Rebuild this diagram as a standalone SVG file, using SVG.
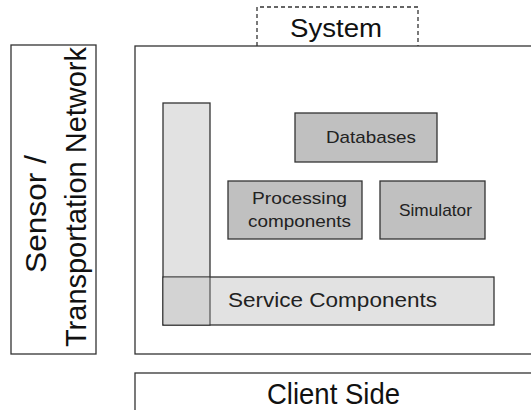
<svg xmlns="http://www.w3.org/2000/svg" width="531" height="410" viewBox="0 0 531 410">
<style>
.frame{fill:#fff;stroke:#333;stroke-width:1.3}
.dark{fill:#c0c0c0;stroke:#333;stroke-width:1.3}
.light{fill:#e2e2e2;stroke:#333;stroke-width:1.3}
.big{font-family:"Liberation Sans",Arial,sans-serif;fill:#111}
.small{font-family:"Liberation Sans",Arial,sans-serif;fill:#222}
</style>
<rect width="531" height="410" fill="#fff"/>
<g id="system">
<path d="M257,46 V7 H418 V46" fill="none" stroke="#333" stroke-width="1.3" stroke-dasharray="4,3"/>
<text class="big" x="290" y="37" font-size="26" textLength="92" lengthAdjust="spacingAndGlyphs">System</text>
</g>
<g id="main">
<rect class="frame" x="135" y="46" width="410" height="308"/>
</g>
<g id="sensor">
<rect class="frame" x="11" y="45" width="85" height="309"/>
<text class="big" font-size="30" text-anchor="middle" transform="translate(46,214) rotate(-90)" textLength="118" lengthAdjust="spacingAndGlyphs">Sensor /</text>
<text class="big" font-size="30" text-anchor="middle" transform="translate(86,197) rotate(-90)" textLength="300" lengthAdjust="spacingAndGlyphs">Transportation Network</text>
</g>
<g id="client">
<rect class="frame" x="135" y="373" width="410" height="50"/>
<text class="big" x="267" y="404" font-size="29" textLength="133" lengthAdjust="spacingAndGlyphs">Client Side</text>
</g>
<g id="service">
<rect class="light" x="163" y="103" width="47" height="222"/>
<rect class="light" x="163" y="277" width="331" height="48"/>
<rect x="163.7" y="277.7" width="46" height="46.6" fill="#d3d3d3"/>
<line x1="210" y1="277" x2="210" y2="325" stroke="#333" stroke-width="1"/>
<text class="small" x="228" y="307" font-size="20" textLength="209" lengthAdjust="spacingAndGlyphs">Service Components</text>
</g>
<g id="databases">
<rect class="dark" x="295" y="113" width="142" height="49"/>
<text class="small" x="326" y="143" font-size="17" textLength="90" lengthAdjust="spacingAndGlyphs">Databases</text>
</g>
<g id="processing">
<rect class="dark" x="228" y="181" width="134" height="58"/>
<text class="small" x="252" y="204" font-size="17" textLength="95" lengthAdjust="spacingAndGlyphs">Processing</text>
<text class="small" x="248" y="227" font-size="17" textLength="103" lengthAdjust="spacingAndGlyphs">components</text>
</g>
<g id="simulator">
<rect class="dark" x="380" y="181" width="105" height="58"/>
<text class="small" x="399" y="216" font-size="17" textLength="73" lengthAdjust="spacingAndGlyphs">Simulator</text>
</g>
<g id="connectors"/>
</svg>
